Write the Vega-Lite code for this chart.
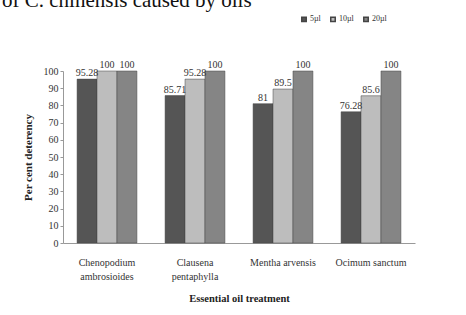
{
  "$schema": "https://vega.github.io/schema/vega-lite/v6.json",
  "autosize": "none",
  "width": 352,
  "height": 172,
  "padding": {"left": 63, "top": 71, "right": 51, "bottom": 72},
  "background": "white",
  "title": {
    "text": "of C. chinensis caused by oils",
    "font": "Liberation Serif",
    "fontSize": 21,
    "fontWeight": "normal",
    "color": "#111",
    "anchor": "start",
    "frame": "group",
    "offset": 4,
    "dx": -61
  },
  "data": {
    "values": [
      {"oil": "Chenopodium ambrosioides", "dose": "5µl", "value": 95.28},
      {"oil": "Chenopodium ambrosioides", "dose": "10µl", "value": 100},
      {"oil": "Chenopodium ambrosioides", "dose": "20µl", "value": 100},
      {"oil": "Clausena pentaphylla", "dose": "5µl", "value": 85.71},
      {"oil": "Clausena pentaphylla", "dose": "10µl", "value": 95.28},
      {"oil": "Clausena pentaphylla", "dose": "20µl", "value": 100},
      {"oil": "Mentha arvensis", "dose": "5µl", "value": 81},
      {"oil": "Mentha arvensis", "dose": "10µl", "value": 89.5},
      {"oil": "Mentha arvensis", "dose": "20µl", "value": 100},
      {"oil": "Ocimum sanctum", "dose": "5µl", "value": 76.28},
      {"oil": "Ocimum sanctum", "dose": "10µl", "value": 85.6},
      {"oil": "Ocimum sanctum", "dose": "20µl", "value": 100}
    ]
  },
  "encoding": {
    "x": {
      "field": "oil",
      "type": "nominal",
      "sort": null,
      "scale": {"paddingInner": 0.32, "paddingOuter": 0.16},
      "axis": {
        "title": "Essential oil treatment",
        "titleFont": "Liberation Serif",
        "titleFontSize": 10.5,
        "titleFontWeight": "bold",
        "titleColor": "#222",
        "titlePadding": 12,
        "labelFont": "Liberation Serif",
        "labelFontSize": 10,
        "labelColor": "#333",
        "labelAngle": 0,
        "labelExpr": "datum.label == 'Chenopodium ambrosioides' ? ['Chenopodium', 'ambrosioides'] : datum.label == 'Clausena pentaphylla' ? ['Clausena', 'pentaphylla'] : datum.label",
        "labelPadding": 14,
        "labelLineHeight": 14,
        "domainColor": "#999",
        "ticks": false
      }
    },
    "xOffset": {"field": "dose", "type": "nominal", "sort": ["5µl", "10µl", "20µl"]},
    "y": {
      "field": "value",
      "type": "quantitative",
      "scale": {"domain": [0, 100]},
      "axis": {
        "title": "Per cent deterency",
        "titleFont": "Liberation Serif",
        "titleFontSize": 11,
        "titleFontWeight": "bold",
        "titleColor": "#222",
        "titlePadding": 10,
        "labelFont": "Liberation Serif",
        "labelFontSize": 10,
        "labelColor": "#333",
        "labelOverlap": false,
        "values": [0, 10, 20, 30, 40, 50, 60, 70, 80, 90, 100],
        "grid": false,
        "domainColor": "#999",
        "tickColor": "#999",
        "tickSize": 3
      }
    }
  },
  "layer": [
    {
      "mark": {"type": "bar", "stroke": "#444", "strokeWidth": 0.5},
      "encoding": {
        "color": {
          "field": "dose",
          "type": "nominal",
          "sort": ["5µl", "10µl", "20µl"],
          "scale": {"domain": ["5µl", "10µl", "20µl"], "range": ["#555555", "#bdbdbd", "#858585"]},
          "legend": {
            "title": null,
            "orient": "none",
            "legendX": 237,
            "legendY": -56,
            "direction": "horizontal",
            "symbolType": "square",
            "symbolSize": 20,
            "labelFont": "Liberation Serif",
            "labelFontSize": 8,
            "labelColor": "#333",
            "columnPadding": 6,
            "labelOffset": 2
          }
        }
      }
    },
    {
      "mark": {"type": "text", "dy": -6, "font": "Liberation Serif", "fontSize": 10, "color": "#333"},
      "encoding": {"text": {"field": "value", "type": "quantitative"}}
    }
  ],
  "config": {"view": {"stroke": null}}
}
